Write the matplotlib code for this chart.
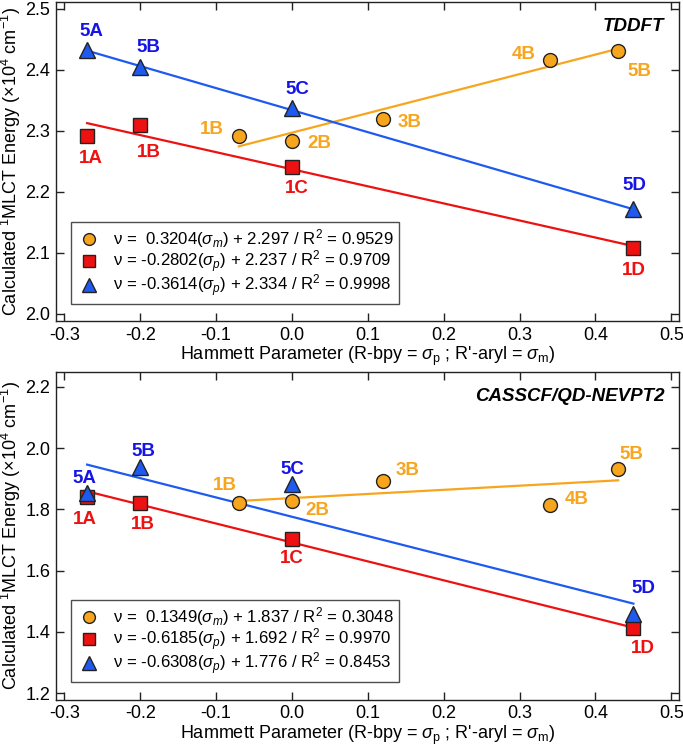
import numpy as np
import matplotlib
matplotlib.use('Agg')
import matplotlib.pyplot as plt
from matplotlib.lines import Line2D

plt.rcParams['font.family'] = ['Liberation Sans', 'DejaVu Sans']
plt.rcParams['mathtext.fontset'] = 'custom'
plt.rcParams['mathtext.rm'] = 'Liberation Sans'
plt.rcParams['mathtext.it'] = 'Liberation Sans:italic'
plt.rcParams['mathtext.bf'] = 'Liberation Sans:bold'

ORANGE = '#F8A51E'
RED = '#EE1111'
BLUE_TXT = '#1414E6'
BLUE = '#1E5AF0'

# sigma values
x_orange = [-0.07, 0.0, 0.12, 0.34, 0.43]
x_red = [-0.27, -0.20, 0.0, 0.45]
x_blue = [-0.27, -0.20, 0.0, 0.45]
lab_orange = ['1B', '2B', '3B', '4B', '5B']
lab_red = ['1A', '1B', '1C', '1D']
lab_blue = ['5A', '5B', '5C', '5D']

# TDDFT energies (x10^4 cm-1)
td_orange = [2.292, 2.283, 2.319, 2.417, 2.431]
td_red = [2.292, 2.310, 2.240, 2.108]
td_blue = [2.433, 2.404, 2.337, 2.171]
td_fit = [(0.3204, 2.297, 0.9529), (-0.2802, 2.237, 0.9709), (-0.3614, 2.334, 0.9998)]

# CASSCF/QD-NEVPT2 energies
cas_orange = [1.822, 1.826, 1.893, 1.816, 1.933]
cas_red = [1.842, 1.820, 1.703, 1.412]
cas_blue = [1.855, 1.937, 1.884, 1.458]
cas_fit = [(0.1349, 1.837, 0.3048), (-0.6185, 1.692, 0.9970), (-0.6308, 1.776, 0.8453)]

# label offsets (dx, dy) in data units
td_off_orange = [(-0.035, 0.010), (0.036, -0.003), (0.035, -0.005), (-0.034, 0.008), (0.028, -0.034)]
td_off_red = [(0.005, -0.037), (0.011, -0.045), (0.007, -0.035), (0.001, -0.037)]
td_off_blue = [(0.005, 0.030), (0.011, 0.033), (0.007, 0.031), (0.001, 0.040)]
cas_off_orange = [(-0.019, 0.057), (0.033, -0.028), (0.033, 0.035), (0.035, 0.017), (0.017, 0.047)]
cas_off_red = [(-0.003, -0.074), (0.004, -0.068), (0.0, -0.063), (0.013, -0.065)]
cas_off_blue = [(-0.003, 0.046), (0.004, 0.051), (0.0, 0.048), (0.013, 0.084)]

fig = plt.figure(figsize=(6.83, 7.5), dpi=100)
ax1 = fig.add_axes([0.082, 0.572, 0.912, 0.425])
ax2 = fig.add_axes([0.082, 0.067, 0.912, 0.437])


def panel(ax, yo, yr, yb, fits, offs, ylim, yticks, title):
    sets = [(x_orange, yo, lab_orange, ORANGE, ORANGE, 'o', 10, offs[0]),
            (x_red, yr, lab_red, RED, RED, 's', 10, offs[1]),
            (x_blue, yb, lab_blue, BLUE, BLUE_TXT, '^', 11, offs[2])]
    handles = []
    legtxt = []
    for (xs, ys, labs, col, tcol, mk, ms, off), (m, b, r2), sub in zip(sets, fits, ['m', 'p', 'p']):
        xl = np.array([min(xs), max(xs)])
        ax.plot(xl, m * xl + b, color=col, lw=1.6, zorder=2)
        ax.plot(xs, ys, ls='none', marker=mk, ms=ms, mfc=col, mec='#222222', mew=1.0, zorder=3)
        for xv, yv, lab, (dx, dy) in zip(xs, ys, labs, off):
            ax.text(xv + dx, yv + dy, lab, color=tcol, fontsize=13.5, fontweight='bold',
                    ha='center', va='center', zorder=4)
        handles.append(Line2D([], [], ls='none', marker=mk, ms=ms - 1.5, mfc=col, mec='#222222', mew=1.0))
        sign = ' ' if m >= 0 else ''
        legtxt.append('ν = %s%.4f($\\mathit{\\sigma_%s}$) + %.3f / R$^2$ = %.4f' % (sign, m, sub, b, r2))
    leg = ax.legend(handles, legtxt, loc='lower left', bbox_to_anchor=(0.024, 0.053),
                    borderaxespad=0, fontsize=12.1, frameon=True, fancybox=False,
                    edgecolor='#222222', handletextpad=0.6, borderpad=0.3, labelspacing=-0.12,
                    handlelength=1.6, handleheight=0.6)
    leg.get_frame().set_linewidth(1.0)
    ax.set_xlim(-0.311, 0.51)
    ax.set_ylim(*ylim)
    ax.set_xticks(np.arange(-0.3, 0.51, 0.1))
    ax.set_xticklabels(['-0.3', '-0.2', '-0.1', '0.0', '0.1', '0.2', '0.3', '0.4', '0.5'])
    ax.set_yticks(yticks)
    ax.set_yticklabels(['%.1f' % v for v in yticks])
    ax.tick_params(direction='in', length=6, width=1.0, top=True, right=True,
                   labelsize=13, color='#222222', pad=4)
    for s in ax.spines.values():
        s.set_linewidth(1.0)
        s.set_color('#222222')
    ax.set_xlabel(r"Hammett Parameter (R-bpy = $\sigma_\mathrm{p}$ ; R'-aryl = $\sigma_\mathrm{m}$)",
                  fontsize=13, labelpad=1)
    ax.set_ylabel(r'Calculated $^1$MLCT Energy ($\times$10$^4$ cm$^{-1}$)', fontsize=13, labelpad=2)
    ax.text(0.977, 0.925, title, transform=ax.transAxes, ha='right', va='center',
            fontsize=13.5, fontweight='bold', fontstyle='italic')


panel(ax1, td_orange, td_red, td_blue, td_fit,
      (td_off_orange, td_off_red, td_off_blue), (1.988, 2.511),
      [2.0, 2.1, 2.2, 2.3, 2.4, 2.5], 'TDDFT')
panel(ax2, cas_orange, cas_red, cas_blue, cas_fit,
      (cas_off_orange, cas_off_red, cas_off_blue), (1.178, 2.249),
      [1.2, 1.4, 1.6, 1.8, 2.0, 2.2], 'CASSCF/QD-NEVPT2')

fig.savefig('out.png', dpi=100)
